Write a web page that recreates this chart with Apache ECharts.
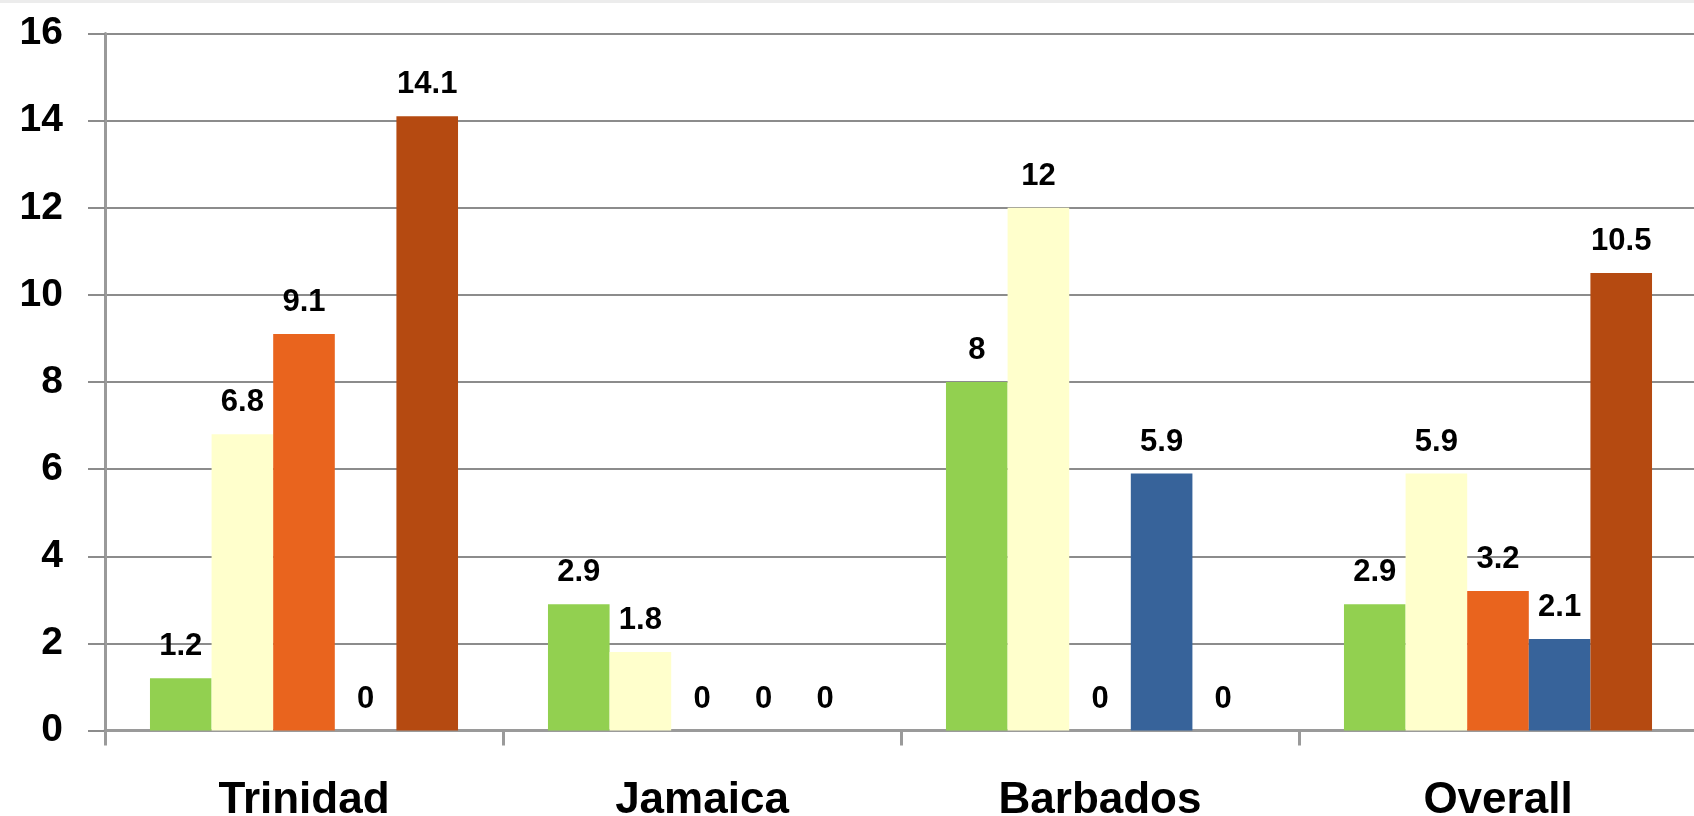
<!DOCTYPE html>
<html>
<head>
<meta charset="utf-8">
<script src="https://cdn.jsdelivr.net/npm/echarts@6/dist/echarts.min.js"></script>
<style>
html,body{margin:0;padding:0;background:#fff;}
#c{width:1694px;height:816px;}
</style>
</head>
<body>
<div id="c"></div>
<script>
const categories = ['Trinidad', 'Jamaica', 'Barbados', 'Overall'];
const seriesNames = ['Series 1', 'Series 2', 'Series 3', 'Series 4', 'Series 5'];
const s1 = [1.2, 2.9, 8, 2.9];
const s2 = [6.8, 1.8, 12, 5.9];
const s3 = [9.1, 0, 0, 3.2];
const s4 = [0, 0, 5.9, 2.1];
const s5 = [14.1, 0, 0, 10.5];
const yTicks = [0, 2, 4, 6, 8, 10, 12, 14, 16];

const colors = ['#92D050', '#FFFFCC', '#E9641E', '#37639A', '#B54A11'];
const values = [s1, s2, s3, s4, s5];
const FONT = '"Liberation Sans", Arial, sans-serif';

const chart = echarts.init(document.getElementById('c'));
chart.setOption({
  animation: false,
  backgroundColor: '#ffffff',
  graphic: [{
    type: 'rect', shape: {x: 0, y: 0, width: 1694, height: 3},
    style: {fill: '#ececec'}, silent: true
  }],
  grid: {left: 105, right: -3, top: 33.5, bottom: 85.5, containLabel: false, outerBoundsMode: 'none'},
  xAxis: {
    type: 'category',
    data: categories,
    axisLine: {show: true, lineStyle: {color: '#9a9a9a', width: 3}},
    axisTick: {show: true, length: 15, lineStyle: {color: '#9a9a9a', width: 3}},
    axisLabel: {color: '#000', fontSize: 44, fontWeight: 'bold', fontFamily: FONT, margin: 48}
  },
  yAxis: {
    type: 'value',
    min: yTicks[0],
    max: yTicks[yTicks.length - 1],
    interval: 2,
    axisLine: {show: true, lineStyle: {color: '#9a9a9a', width: 3}},
    axisTick: {show: true, length: 17, lineStyle: {color: '#8c8c8c', width: 2}},
    splitLine: {show: true, lineStyle: {color: '#8c8c8c', width: 2}},
    axisLabel: {color: '#000', fontSize: 39, fontWeight: 'bold', fontFamily: FONT, margin: 42}
  },
  series: values.map((v, i) => ({
    name: seriesNames[i],
    type: 'bar',
    data: v,
    barGap: '0%',
    barCategoryGap: '22.6%',
    itemStyle: {color: colors[i]},
    label: {
      show: true, position: 'top', distance: 16,
      color: '#000', fontSize: 31, fontWeight: 'bold', fontFamily: FONT
    }
  }))
});
</script>
</body>
</html>
